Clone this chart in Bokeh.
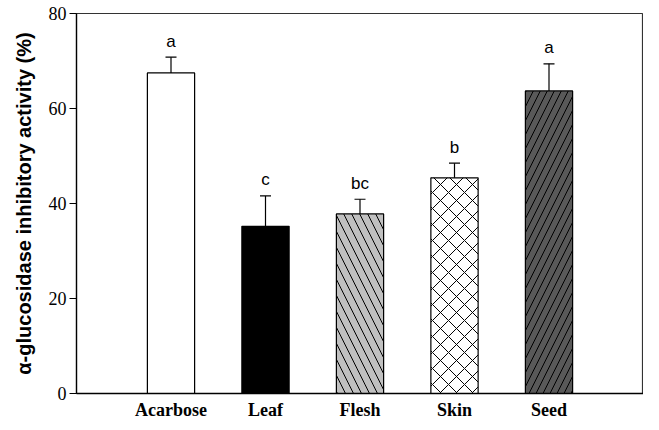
import numpy as np
from bokeh.plotting import figure
from bokeh.models import ColumnDataSource, Range1d, FixedTicker, Whisker, TeeHead
from bokeh.embed import file_html
from bokeh.resources import INLINE

# ---- data ----
categories = ["Acarbose", "Leaf", "Flesh", "Skin", "Seed"]
means = [67.5, 35.2, 37.8, 45.4, 63.7]
errors = [3.3, 6.4, 3.1, 3.1, 5.7]
letters = ["a", "c", "bc", "b", "a"]
y_ticks = [0, 20, 40, 60, 80]

# ---- styles ----
fills = ["white", "black", "#c0c0c0", "white", "#595959"]
hatches = [" ", " ", "\\", "x", "/"]
hatch_scales = [16, 16, 16, 16, 14]

xpos = list(range(1, len(categories) + 1))
tops = [m + e for m, e in zip(means, errors)]

src = ColumnDataSource(dict(x=xpos, top=means, err_top=tops, label=letters,
                            fill=fills, hatch=hatches, hs=hatch_scales))

p = figure(width=643, height=422, output_backend="svg", toolbar_location=None,
           x_range=Range1d(0, 6), y_range=Range1d(0, 80),
           min_border_left=76, min_border_right=0, min_border_top=13, min_border_bottom=27)

p.vbar(x="x", top="top", bottom=0, width=0.5, source=src,
       fill_color="fill", line_color="black", line_width=1.2,
       hatch_pattern="hatch", hatch_color="black", hatch_weight=1, hatch_scale="hs")

w = Whisker(base="x", upper="err_top", lower="top", source=src,
            line_color="black", line_width=1.2,
            upper_head=TeeHead(size=11, line_color="black", line_width=1.2),
            lower_head=None, level="overlay")
p.add_layout(w)

p.text(x="x", y="err_top", text="label", source=src, text_align="center",
       text_baseline="alphabetic", y_offset=-16, text_font_size="17px",
       text_font={"value": "Liberation Sans"}, text_color="black")

p.xgrid.visible = False
p.ygrid.visible = False
p.outline_line_color = "#333333"
p.outline_line_width = 1.2

p.xaxis.ticker = FixedTicker(ticks=xpos)
p.xaxis.major_label_overrides = {x: c for x, c in zip(xpos, categories)}
p.xaxis.major_tick_line_color = None
p.xaxis.major_tick_out = 0
p.xaxis.major_tick_in = 0
p.xaxis.minor_tick_line_color = None
p.xaxis.major_label_text_font = "Liberation Serif"
p.xaxis.major_label_text_font_style = "bold"
p.xaxis.major_label_text_font_size = "18px"
p.xaxis.major_label_standoff = 6
p.xaxis.axis_line_width = 1.3

p.yaxis.ticker = FixedTicker(ticks=y_ticks)
p.yaxis.minor_tick_line_color = None
p.yaxis.major_tick_in = 0
p.yaxis.major_tick_out = 7
p.yaxis.major_label_standoff = 3
p.yaxis.major_label_text_font = "Liberation Serif"
p.yaxis.major_label_text_font_size = "18px"
p.yaxis.axis_line_width = 1.3
p.yaxis.axis_label = "α-glucosidase inhibitory activity (%)"
p.yaxis.axis_label_text_font = "Liberation Sans"
p.yaxis.axis_label_text_font_style = "bold"
p.yaxis.axis_label_text_font_size = "20px"
p.yaxis.axis_label_standoff = 11

for ax in (p.xaxis, p.yaxis):
    ax.major_label_text_color = "black"
    ax.axis_label_text_color = "black"
    ax.axis_line_color = "black"

open("out.html", "w").write(file_html(p, INLINE))
